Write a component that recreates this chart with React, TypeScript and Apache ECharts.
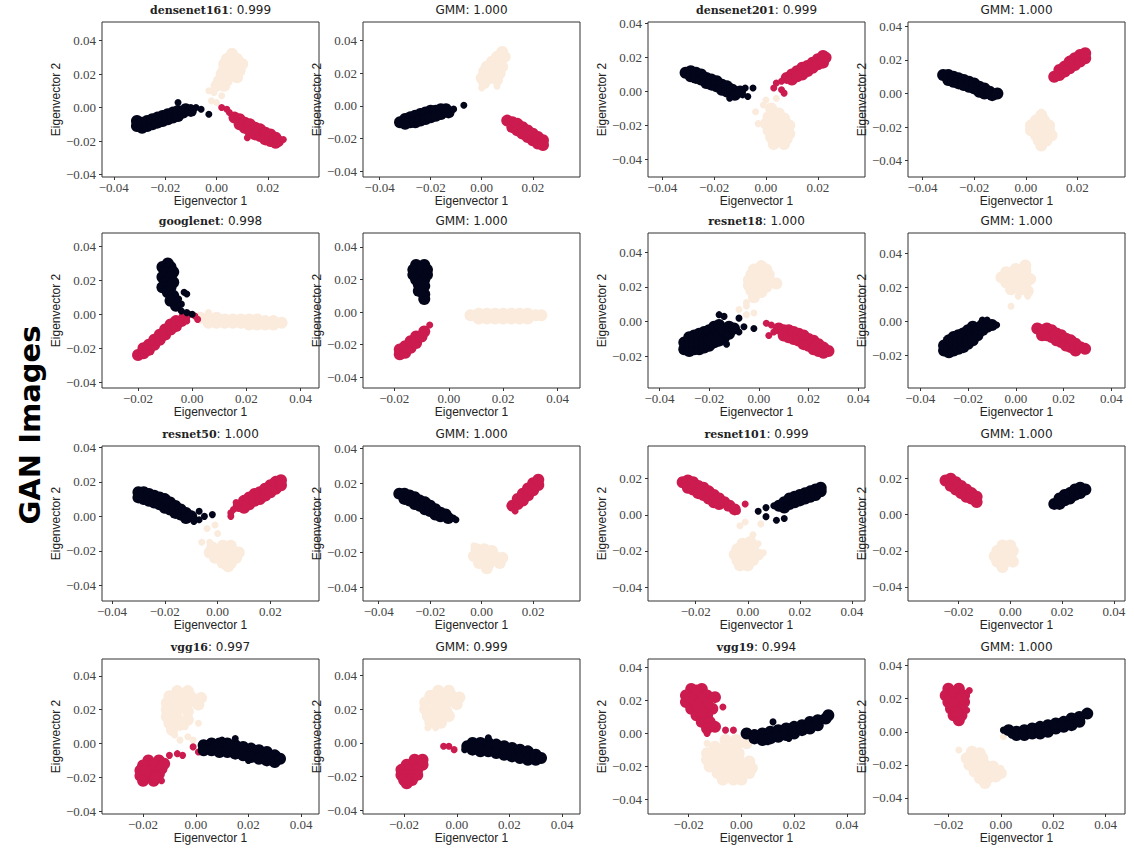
import React, { useEffect, useRef } from "react";
import * as echarts from "echarts";

const BLACK = "#03051A";
const RED = "#CB1B4F";
const PEACH = "#FAEBDD";

const TICKS_A = [-0.04, -0.02, 0, 0.02];
const TICKS_B = [-0.04, -0.02, 0, 0.02, 0.04];
const TICKS_C = [-0.02, 0, 0.02, 0.04];

// ---------- densenet161 ----------
const d161K = [[-0.031,-0.011],[-0.031,-0.008],[-0.029,-0.012],[-0.029,-0.009],[-0.027,-0.011],[-0.027,-0.008],[-0.025,-0.010],[-0.025,-0.007],[-0.023,-0.009],[-0.023,-0.006],[-0.021,-0.008],[-0.021,-0.005],[-0.019,-0.007],[-0.019,-0.004],[-0.017,-0.006],[-0.017,-0.003],[-0.015,-0.005],[-0.015,-0.002],[-0.013,-0.003],[-0.012,-0.001],[-0.010,-0.002]];
const d161KS = [[-0.015,0.003],[-0.010,0.000],[-0.008,0.000],[-0.006,-0.001],[-0.003,-0.004]];
const d161R = [[0.007,-0.006],[0.009,-0.007],[0.009,-0.010],[0.011,-0.009],[0.011,-0.012],[0.013,-0.010],[0.013,-0.014],[0.015,-0.012],[0.015,-0.016],[0.017,-0.013],[0.017,-0.017],[0.019,-0.015],[0.019,-0.019],[0.021,-0.016],[0.021,-0.020],[0.023,-0.018],[0.023,-0.021],[0.024,-0.020]];
const d161RS = [[0.002,0.000],[0.004,-0.001],[0.005,-0.003],[0.012,-0.018],[0.026,-0.019]];
const d161P = [[0.006,0.032],[0.004,0.029],[0.008,0.029],[0.003,0.026],[0.007,0.026],[0.010,0.026],[0.003,0.023],[0.006,0.023],[0.009,0.022],[0.002,0.020],[0.005,0.019],[0.008,0.018],[0.001,0.016],[0.004,0.016],[0.000,0.013],[0.003,0.013]];
const d161PS = [[-0.003,0.010],[-0.001,0.009],[-0.002,0.004],[0.000,0.003],[0.002,0.007]];

// ---------- GMM (densenet161) ----------
const g161K = [[-0.032,-0.010],[-0.030,-0.008],[-0.030,-0.011],[-0.028,-0.007],[-0.028,-0.010],[-0.026,-0.006],[-0.026,-0.010],[-0.024,-0.005],[-0.024,-0.009],[-0.022,-0.004],[-0.022,-0.008],[-0.020,-0.003],[-0.020,-0.007],[-0.018,-0.003],[-0.018,-0.006],[-0.016,-0.002],[-0.016,-0.005],[-0.014,-0.002],[-0.013,-0.004]];
const g161KS = [[-0.011,-0.002],[-0.007,0.0004]];
const g161R = [[0.010,-0.009],[0.012,-0.010],[0.012,-0.013],[0.014,-0.011],[0.014,-0.015],[0.016,-0.013],[0.016,-0.017],[0.018,-0.015],[0.018,-0.019],[0.020,-0.017],[0.020,-0.021],[0.022,-0.019],[0.022,-0.023],[0.024,-0.021],[0.024,-0.024]];
const g161RS: number[][] = [];
const g161P = [[0.008,0.033],[0.006,0.030],[0.009,0.030],[0.004,0.027],[0.007,0.027],[0.002,0.024],[0.005,0.024],[0.008,0.024],[0.001,0.021],[0.004,0.021],[0.007,0.020],[0.000,0.017],[0.003,0.017],[0.006,0.016],[0.001,0.014]];
const g161PS = [[0.000,0.011],[0.006,0.012]];

// ---------- densenet201 ----------
const d201K = [[-0.031,0.011],[-0.029,0.012],[-0.029,0.009],[-0.027,0.011],[-0.027,0.008],[-0.025,0.010],[-0.025,0.007],[-0.023,0.008],[-0.023,0.005],[-0.021,0.007],[-0.021,0.004],[-0.019,0.006],[-0.019,0.003],[-0.017,0.004],[-0.017,0.001],[-0.015,0.003],[-0.015,0.000],[-0.013,0.001],[-0.012,-0.002],[-0.010,0.000]];
const d201KS = [[-0.014,-0.004],[-0.009,-0.002],[-0.008,0.002],[-0.005,0.002],[-0.007,-0.003]];
const d201R = [[0.008,0.008],[0.010,0.010],[0.010,0.007],[0.012,0.012],[0.012,0.009],[0.014,0.014],[0.014,0.010],[0.016,0.015],[0.016,0.012],[0.018,0.017],[0.018,0.014],[0.020,0.019],[0.020,0.016],[0.022,0.021],[0.022,0.017],[0.023,0.020]];
const d201RS = [[0.004,0.005],[0.003,0.002],[0.006,0.001],[0.007,-0.001],[0.006,0.006]];
const d201P = [[0.002,-0.010],[0.005,-0.013],[0.001,-0.015],[0.004,-0.016],[0.007,-0.016],[0.000,-0.019],[0.003,-0.020],[0.006,-0.020],[0.009,-0.020],[0.001,-0.023],[0.004,-0.024],[0.007,-0.024],[0.009,-0.025],[0.002,-0.027],[0.005,-0.028],[0.008,-0.028],[0.003,-0.031],[0.007,-0.031]];
const d201PS = [[0.000,-0.005],[-0.001,-0.008],[-0.004,-0.012],[-0.003,-0.019],[0.004,-0.004]];

// ---------- GMM (densenet201) ----------
const g201K = [[-0.032,0.011],[-0.030,0.011],[-0.030,0.008],[-0.028,0.010],[-0.028,0.007],[-0.026,0.009],[-0.026,0.006],[-0.024,0.008],[-0.024,0.005],[-0.022,0.007],[-0.022,0.004],[-0.020,0.006],[-0.020,0.003],[-0.018,0.004],[-0.018,0.001],[-0.016,0.003],[-0.016,0.000],[-0.014,0.001],[-0.013,-0.001],[-0.011,0.000]];
const g201KS: number[][] = [];
const g201R = [[0.011,0.010],[0.013,0.011],[0.013,0.014],[0.015,0.013],[0.015,0.016],[0.017,0.015],[0.017,0.019],[0.019,0.017],[0.019,0.021],[0.021,0.019],[0.021,0.023],[0.023,0.021],[0.023,0.024]];
const g201RS: number[][] = [];
const g201P = [[0.006,-0.013],[0.004,-0.016],[0.007,-0.016],[0.002,-0.019],[0.005,-0.019],[0.009,-0.019],[0.002,-0.022],[0.005,-0.022],[0.009,-0.022],[0.004,-0.025],[0.007,-0.025],[0.010,-0.025],[0.005,-0.028],[0.008,-0.028],[0.006,-0.031]];
const g201PS = [[0.006,-0.011]];

// ---------- googlenet ----------
const gnK = [[-0.009,0.030],[-0.011,0.028],[-0.008,0.028],[-0.010,0.025],[-0.007,0.025],[-0.011,0.022],[-0.008,0.022],[-0.010,0.019],[-0.007,0.019],[-0.011,0.016],[-0.008,0.016],[-0.009,0.013],[-0.007,0.011],[-0.008,0.008],[-0.006,0.005]];
const gnKS = [[-0.003,0.013],[-0.002,0.012],[-0.004,0.006],[-0.004,0.002],[-0.002,0.001],[0.000,0.000],[-0.005,0.009]];
const gnR = [[-0.020,-0.024],[-0.018,-0.023],[-0.018,-0.020],[-0.016,-0.021],[-0.016,-0.018],[-0.014,-0.018],[-0.014,-0.015],[-0.012,-0.015],[-0.012,-0.012],[-0.010,-0.012],[-0.010,-0.009],[-0.008,-0.009],[-0.008,-0.006],[-0.006,-0.007],[-0.006,-0.004],[-0.004,-0.004],[-0.003,-0.002]];
const gnRS = [[-0.002,-0.004],[0.002,-0.003],[0.001,-0.001],[-0.001,0.000]];
const gnP = [[0.003,-0.002],[0.006,-0.002],[0.006,-0.005],[0.009,-0.002],[0.009,-0.005],[0.012,-0.003],[0.012,-0.005],[0.015,-0.003],[0.015,-0.005],[0.018,-0.003],[0.018,-0.005],[0.021,-0.003],[0.021,-0.006],[0.024,-0.003],[0.024,-0.006],[0.027,-0.004],[0.027,-0.006],[0.030,-0.004],[0.030,-0.006],[0.033,-0.005]];
const gnPS = [[0.006,0.001]];

// ---------- GMM (googlenet) ----------
const ggnK = [[-0.012,0.029],[-0.009,0.029],[-0.013,0.026],[-0.010,0.026],[-0.008,0.026],[-0.013,0.023],[-0.010,0.023],[-0.008,0.023],[-0.012,0.020],[-0.009,0.020],[-0.011,0.017],[-0.009,0.016],[-0.011,0.013],[-0.009,0.011],[-0.009,0.008]];
const ggnKS: number[][] = [];
const ggnR = [[-0.018,-0.026],[-0.018,-0.023],[-0.016,-0.025],[-0.016,-0.021],[-0.014,-0.022],[-0.014,-0.018],[-0.012,-0.019],[-0.012,-0.015],[-0.010,-0.015],[-0.009,-0.012]];
const ggnRS = [[-0.007,-0.008]];
const ggnP = [[0.008,-0.002],[0.011,-0.001],[0.011,-0.004],[0.014,-0.001],[0.014,-0.004],[0.017,-0.001],[0.017,-0.004],[0.020,-0.001],[0.020,-0.004],[0.023,-0.001],[0.023,-0.004],[0.026,-0.001],[0.026,-0.004],[0.029,-0.001],[0.029,-0.004],[0.032,-0.002],[0.034,-0.002]];
const ggnPS: number[][] = [];

// ---------- resnet18 ----------
const r18K = [[-0.030,-0.016],[-0.030,-0.012],[-0.028,-0.017],[-0.028,-0.013],[-0.028,-0.009],[-0.026,-0.016],[-0.026,-0.012],[-0.026,-0.008],[-0.024,-0.016],[-0.024,-0.012],[-0.024,-0.007],[-0.022,-0.015],[-0.022,-0.011],[-0.022,-0.006],[-0.020,-0.014],[-0.020,-0.010],[-0.020,-0.005],[-0.018,-0.012],[-0.018,-0.008],[-0.018,-0.003],[-0.016,-0.011],[-0.016,-0.007],[-0.016,-0.002],[-0.014,-0.009],[-0.014,-0.005],[-0.012,-0.007],[-0.012,-0.003],[-0.010,-0.004]];
const r18KS = [[-0.016,0.004],[-0.014,0.003],[-0.008,0.002],[-0.006,-0.003],[-0.002,-0.004],[-0.013,-0.013],[-0.008,-0.006]];
const r18R = [[0.008,-0.004],[0.010,-0.005],[0.010,-0.008],[0.012,-0.005],[0.012,-0.009],[0.014,-0.006],[0.014,-0.010],[0.016,-0.007],[0.016,-0.011],[0.018,-0.008],[0.018,-0.013],[0.020,-0.010],[0.020,-0.014],[0.022,-0.011],[0.022,-0.016],[0.024,-0.013],[0.024,-0.017],[0.026,-0.015],[0.026,-0.018],[0.028,-0.017]];
const r18RS = [[0.003,-0.001],[0.004,-0.008],[0.006,-0.006],[0.005,-0.002]];
const r18P = [[0.001,0.032],[-0.002,0.030],[0.003,0.030],[-0.003,0.027],[0.001,0.027],[0.004,0.027],[-0.004,0.024],[0.000,0.024],[0.004,0.024],[0.007,0.022],[-0.004,0.021],[0.000,0.021],[0.003,0.020],[-0.003,0.018],[0.001,0.017],[-0.002,0.014]];
const r18PS = [[-0.005,0.011],[-0.008,0.007],[-0.002,0.005],[-0.005,0.004],[-0.005,0.009]];

// ---------- GMM (resnet18) ----------
const g18K = [[-0.030,-0.017],[-0.030,-0.014],[-0.028,-0.018],[-0.028,-0.014],[-0.028,-0.011],[-0.026,-0.017],[-0.026,-0.013],[-0.026,-0.009],[-0.024,-0.016],[-0.024,-0.012],[-0.024,-0.008],[-0.022,-0.015],[-0.022,-0.011],[-0.022,-0.007],[-0.020,-0.013],[-0.020,-0.009],[-0.020,-0.005],[-0.018,-0.011],[-0.018,-0.007],[-0.018,-0.003],[-0.016,-0.008],[-0.016,-0.004],[-0.014,-0.005],[-0.014,-0.002],[-0.012,-0.003],[-0.010,-0.002]];
const g18KS = [[-0.014,0.001],[-0.012,0.001],[-0.008,-0.002]];
const g18R = [[0.009,-0.004],[0.011,-0.005],[0.011,-0.008],[0.013,-0.004],[0.013,-0.008],[0.015,-0.005],[0.015,-0.009],[0.017,-0.007],[0.017,-0.011],[0.019,-0.008],[0.019,-0.012],[0.021,-0.010],[0.021,-0.014],[0.023,-0.011],[0.023,-0.015],[0.025,-0.013],[0.025,-0.017],[0.027,-0.015],[0.029,-0.016]];
const g18RS: number[][] = [];
const g18P = [[0.004,0.033],[0.000,0.031],[0.004,0.030],[-0.004,0.029],[0.000,0.028],[0.004,0.027],[-0.006,0.026],[-0.002,0.026],[0.002,0.025],[0.006,0.025],[-0.004,0.023],[0.000,0.022],[0.004,0.022],[-0.002,0.019],[0.002,0.019],[0.005,0.018]];
const g18PS = [[-0.002,0.009],[0.001,0.015],[0.005,0.015]];

// ---------- resnet50 ----------
const r50K = [[-0.030,0.014],[-0.030,0.011],[-0.028,0.014],[-0.028,0.010],[-0.026,0.013],[-0.026,0.009],[-0.024,0.012],[-0.024,0.008],[-0.022,0.011],[-0.022,0.007],[-0.020,0.010],[-0.020,0.005],[-0.018,0.008],[-0.018,0.004],[-0.016,0.006],[-0.016,0.002],[-0.014,0.004],[-0.014,0.001],[-0.012,0.002],[-0.012,-0.001],[-0.010,0.000]];
const r50KS = [[-0.009,-0.003],[-0.007,-0.002],[-0.007,0.003],[-0.005,0.000],[-0.002,0.001]];
const r50R = [[0.008,0.006],[0.010,0.005],[0.010,0.009],[0.012,0.007],[0.012,0.011],[0.014,0.009],[0.014,0.013],[0.016,0.010],[0.016,0.014],[0.018,0.012],[0.018,0.016],[0.020,0.014],[0.020,0.018],[0.022,0.016],[0.022,0.020],[0.024,0.018],[0.024,0.021]];
const r50RS = [[0.005,0.000],[0.005,0.002],[0.007,0.008],[0.006,0.004]];
const r50P = [[-0.002,-0.018],[0.002,-0.017],[0.005,-0.017],[-0.003,-0.021],[0.001,-0.021],[0.005,-0.021],[0.008,-0.021],[-0.001,-0.024],[0.003,-0.024],[0.007,-0.024],[0.002,-0.027],[0.005,-0.027],[0.004,-0.029]];
const r50PS = [[-0.001,-0.005],[-0.004,-0.007],[0.000,-0.010],[-0.006,-0.015],[-0.003,-0.015]];

// ---------- GMM (resnet50) ----------
const g50K = [[-0.032,0.014],[-0.030,0.014],[-0.030,0.011],[-0.028,0.013],[-0.028,0.010],[-0.026,0.012],[-0.026,0.008],[-0.024,0.010],[-0.024,0.007],[-0.022,0.009],[-0.022,0.005],[-0.020,0.007],[-0.020,0.004],[-0.018,0.005],[-0.018,0.002],[-0.016,0.003],[-0.016,0.001],[-0.014,0.002],[-0.013,0.000]];
const g50KS = [[-0.011,0.000],[-0.010,-0.001]];
const g50R = [[0.012,0.007],[0.014,0.008],[0.014,0.011],[0.016,0.010],[0.016,0.014],[0.018,0.013],[0.018,0.017],[0.020,0.016],[0.020,0.020],[0.022,0.019],[0.022,0.022]];
const g50RS = [[0.011,0.007],[0.013,0.004]];
const g50P = [[-0.002,-0.018],[0.001,-0.018],[0.004,-0.019],[-0.003,-0.022],[0.001,-0.022],[0.005,-0.022],[0.008,-0.023],[-0.001,-0.026],[0.003,-0.026],[0.007,-0.026],[0.002,-0.029]];
const g50PS = [[-0.003,-0.016]];

// ---------- resnet101 ----------
const r101K = [[0.012,0.005],[0.014,0.004],[0.014,0.007],[0.016,0.006],[0.016,0.009],[0.018,0.007],[0.018,0.010],[0.020,0.008],[0.020,0.011],[0.022,0.009],[0.022,0.012],[0.024,0.010],[0.024,0.013],[0.026,0.011],[0.026,0.014],[0.028,0.013],[0.028,0.015]];
const r101KS = [[0.004,0.002],[0.007,0.004],[0.007,-0.001],[0.011,-0.003],[0.014,-0.002],[0.010,0.005]];
const r101R = [[-0.025,0.018],[-0.023,0.019],[-0.023,0.015],[-0.021,0.018],[-0.021,0.014],[-0.019,0.016],[-0.019,0.012],[-0.017,0.015],[-0.017,0.011],[-0.015,0.013],[-0.015,0.009],[-0.013,0.011],[-0.013,0.007],[-0.011,0.009],[-0.011,0.006],[-0.009,0.007],[-0.007,0.005],[-0.005,0.003]];
const r101RS = [[-0.001,0.006],[-0.004,0.002],[-0.008,0.004]];
const r101P = [[-0.002,-0.016],[0.001,-0.015],[-0.004,-0.019],[-0.001,-0.019],[0.002,-0.019],[-0.005,-0.022],[-0.002,-0.022],[0.001,-0.022],[0.004,-0.022],[-0.004,-0.025],[-0.001,-0.025],[0.002,-0.025],[-0.003,-0.028],[0.000,-0.028]];
const r101PS = [[-0.003,-0.006],[-0.001,-0.004],[0.005,-0.005],[0.002,-0.011],[0.004,-0.016],[0.006,-0.021]];

// ---------- GMM (resnet101) ----------
const g101K = [[0.017,0.006],[0.019,0.006],[0.019,0.009],[0.021,0.008],[0.021,0.011],[0.023,0.009],[0.023,0.012],[0.025,0.011],[0.025,0.014],[0.027,0.012],[0.027,0.015],[0.029,0.014]];
const g101KS: number[][] = [];
const g101R = [[-0.025,0.019],[-0.023,0.020],[-0.023,0.016],[-0.021,0.018],[-0.021,0.014],[-0.019,0.016],[-0.019,0.012],[-0.017,0.014],[-0.017,0.010],[-0.015,0.012],[-0.015,0.009],[-0.013,0.010],[-0.013,0.007]];
const g101RS: number[][] = [];
const g101P = [[-0.003,-0.017],[0.000,-0.017],[-0.005,-0.020],[-0.002,-0.020],[0.001,-0.020],[-0.006,-0.023],[-0.003,-0.023],[0.000,-0.023],[-0.005,-0.026],[-0.002,-0.026],[0.001,-0.026],[-0.003,-0.029]];
const g101PS: number[][] = [];

// ---------- vgg16 ----------
const v16K = [[0.003,-0.001],[0.003,-0.004],[0.006,0.000],[0.006,-0.004],[0.009,0.000],[0.009,-0.005],[0.012,0.000],[0.012,-0.005],[0.015,-0.001],[0.015,-0.006],[0.018,-0.002],[0.018,-0.007],[0.021,-0.003],[0.021,-0.008],[0.024,-0.004],[0.024,-0.009],[0.027,-0.005],[0.027,-0.010],[0.030,-0.007],[0.030,-0.011],[0.032,-0.009]];
const v16KS = [[0.015,0.003],[0.010,0.002],[0.020,-0.010]];
const v16R = [[-0.018,-0.010],[-0.014,-0.010],[-0.020,-0.013],[-0.016,-0.013],[-0.012,-0.012],[-0.021,-0.016],[-0.017,-0.016],[-0.013,-0.015],[-0.021,-0.019],[-0.017,-0.019],[-0.014,-0.018],[-0.020,-0.022],[-0.016,-0.022],[-0.019,-0.016],[-0.015,-0.020]];
const v16RS = [[-0.010,-0.007],[-0.007,-0.006],[-0.005,-0.007],[-0.001,-0.002],[0.001,-0.005],[-0.013,-0.022]];
const v16P = [[-0.007,0.031],[-0.003,0.031],[-0.010,0.028],[-0.006,0.028],[-0.002,0.028],[0.002,0.027],[-0.011,0.024],[-0.007,0.024],[-0.003,0.024],[0.001,0.023],[-0.011,0.020],[-0.007,0.020],[-0.003,0.019],[-0.011,0.016],[-0.007,0.015],[-0.003,0.014],[-0.010,0.012],[-0.006,0.011],[-0.009,0.008],[-0.005,0.022],[-0.009,0.018]];
const v16PS = [[-0.006,0.002],[-0.001,0.002],[0.001,0.012],[-0.004,0.010],[-0.003,0.004],[-0.008,0.005]];

// ---------- GMM (vgg16) ----------
const g16K = [[0.004,-0.002],[0.006,0.000],[0.006,-0.004],[0.009,0.000],[0.009,-0.005],[0.012,0.000],[0.012,-0.005],[0.015,-0.001],[0.015,-0.006],[0.018,-0.002],[0.018,-0.007],[0.021,-0.003],[0.021,-0.008],[0.024,-0.004],[0.024,-0.009],[0.027,-0.005],[0.027,-0.010],[0.030,-0.007],[0.030,-0.010],[0.032,-0.009]];
const g16KS = [[0.012,0.003],[0.003,-0.004]];
const g16R = [[-0.016,-0.010],[-0.013,-0.010],[-0.019,-0.013],[-0.016,-0.013],[-0.013,-0.013],[-0.021,-0.016],[-0.018,-0.016],[-0.015,-0.016],[-0.021,-0.019],[-0.018,-0.019],[-0.015,-0.019],[-0.020,-0.022],[-0.017,-0.022],[-0.019,-0.024]];
const g16RS = [[-0.005,-0.002],[-0.003,-0.002],[-0.001,-0.004]];
const g16P = [[-0.007,0.031],[-0.003,0.031],[-0.010,0.028],[-0.006,0.028],[-0.002,0.028],[0.001,0.027],[-0.012,0.024],[-0.008,0.024],[-0.004,0.024],[0.000,0.023],[-0.012,0.020],[-0.008,0.020],[-0.004,0.019],[-0.011,0.016],[-0.007,0.016],[-0.003,0.016],[-0.010,0.012],[-0.006,0.012],[-0.006,0.021],[-0.010,0.018]];
const g16PS = [[-0.011,0.009],[-0.008,0.009]];

// ---------- vgg19 ----------
const v19K = [[0.002,0.000],[0.005,-0.001],[0.005,-0.003],[0.008,0.000],[0.008,-0.004],[0.011,0.001],[0.011,-0.003],[0.014,0.002],[0.014,-0.002],[0.017,0.003],[0.017,-0.001],[0.020,0.004],[0.020,0.000],[0.023,0.005],[0.023,0.002],[0.026,0.007],[0.026,0.003],[0.029,0.008],[0.029,0.005],[0.032,0.009],[0.033,0.011]];
const v19KS = [[0.012,0.007],[0.010,-0.005],[0.018,-0.003]];
const v19R = [[-0.019,0.027],[-0.015,0.027],[-0.021,0.023],[-0.017,0.023],[-0.013,0.023],[-0.010,0.022],[-0.021,0.019],[-0.017,0.019],[-0.013,0.019],[-0.019,0.015],[-0.015,0.015],[-0.011,0.015],[-0.017,0.011],[-0.013,0.011],[-0.015,0.007],[-0.012,0.007],[-0.013,0.003],[-0.010,0.004],[-0.017,0.026],[-0.019,0.021],[-0.015,0.021],[-0.017,0.017],[-0.013,0.017],[-0.015,0.013]];
const v19RS = [[-0.007,0.016],[-0.006,0.002],[-0.003,0.002],[-0.013,0.000]];
const v19P = [[-0.006,-0.004],[-0.002,-0.004],[-0.010,-0.008],[-0.006,-0.008],[-0.002,-0.008],[0.002,-0.006],[-0.013,-0.012],[-0.009,-0.012],[-0.005,-0.012],[-0.001,-0.012],[-0.013,-0.016],[-0.009,-0.016],[-0.005,-0.016],[-0.001,-0.016],[0.003,-0.017],[-0.012,-0.020],[-0.008,-0.020],[-0.004,-0.020],[0.000,-0.020],[0.004,-0.021],[-0.009,-0.024],[-0.005,-0.024],[-0.001,-0.024],[0.003,-0.024],[-0.007,-0.028],[-0.003,-0.028],[0.000,-0.028],[-0.011,-0.014],[-0.007,-0.014],[-0.003,-0.014],[-0.010,-0.018],[-0.006,-0.018],[-0.002,-0.018],[-0.007,-0.022],[-0.003,-0.022],[-0.005,-0.026]];
const v19PS = [[0.001,-0.001],[0.003,-0.004],[-0.013,-0.006]];

// ---------- GMM (vgg19) ----------
const g19K = [[0.003,0.001],[0.006,0.000],[0.006,-0.002],[0.009,0.001],[0.009,-0.002],[0.012,0.002],[0.012,-0.001],[0.015,0.003],[0.015,-0.001],[0.018,0.004],[0.018,0.000],[0.021,0.005],[0.021,0.002],[0.024,0.006],[0.024,0.003],[0.027,0.008],[0.027,0.004],[0.030,0.009],[0.030,0.006],[0.033,0.011]];
const g19KS = [[0.001,0.001],[0.004,-0.002]];
const g19R = [[-0.020,0.026],[-0.016,0.026],[-0.021,0.022],[-0.017,0.022],[-0.014,0.022],[-0.020,0.018],[-0.017,0.018],[-0.014,0.018],[-0.019,0.014],[-0.016,0.014],[-0.018,0.010],[-0.015,0.010],[-0.016,0.007],[-0.018,0.024],[-0.019,0.020],[-0.015,0.020],[-0.018,0.016],[-0.017,0.012]];
const g19RS = [[-0.013,0.013],[-0.012,0.025]];
const g19P = [[-0.011,-0.012],[-0.008,-0.013],[-0.013,-0.016],[-0.010,-0.016],[-0.007,-0.016],[-0.012,-0.020],[-0.009,-0.020],[-0.006,-0.020],[-0.003,-0.021],[-0.010,-0.024],[-0.007,-0.024],[-0.004,-0.024],[0.000,-0.025],[-0.008,-0.028],[-0.005,-0.028],[-0.002,-0.027],[-0.006,-0.031],[-0.011,-0.018],[-0.008,-0.018],[-0.005,-0.022],[-0.008,-0.022],[-0.006,-0.026]];
const g19PS = [[-0.016,-0.011],[0.001,-0.003],[0.000,-0.022]];

// Panel titles and axis extents
const modelNames = ["densenet161", "GMM", "densenet201", "GMM", "googlenet", "GMM", "resnet18", "GMM", "resnet50", "GMM", "resnet101", "GMM", "vgg16", "GMM", "vgg19", "GMM"];
const scores = ["0.999", "1.000", "0.999", "1.000", "0.998", "1.000", "1.000", "1.000", "1.000", "1.000", "0.999", "1.000", "0.997", "0.999", "0.994", "1.000"];
const xExtents = [[-0.0446,0.0399],[-0.0465,0.0385],[-0.0455,0.0382],[-0.0456,0.0384],[-0.0333,0.0468],[-0.0315,0.0482],[-0.0446,0.0427],[-0.0451,0.0457],[-0.0438,0.0384],[-0.0461,0.0382],[-0.0383,0.045],[-0.0395,0.0443],[-0.0356,0.0468],[-0.0356,0.0468],[-0.0354,0.0469],[-0.0354,0.0474]];
const yExtents = [[-0.0414,0.051],[-0.0435,0.0513],[-0.0505,0.041],[-0.0498,0.0426],[-0.0435,0.048],[-0.0467,0.0486],[-0.0383,0.0511],[-0.039,0.0521],[-0.0491,0.0408],[-0.0479,0.0415],[-0.0477,0.0381],[-0.0478,0.0381],[-0.0417,0.050],[-0.0422,0.0498],[-0.0488,0.0451],[-0.0497,0.044]];
const xTickSets = [TICKS_A, TICKS_A, TICKS_A, TICKS_A, TICKS_C, TICKS_C, TICKS_B, TICKS_B, TICKS_A, TICKS_A, TICKS_C, TICKS_B, TICKS_C, TICKS_C, TICKS_C, TICKS_C];
const yTickSets = [TICKS_B, TICKS_B, TICKS_B, TICKS_B, TICKS_B, TICKS_B, TICKS_C, TICKS_C, TICKS_B, TICKS_B, TICKS_A, TICKS_A, TICKS_B, TICKS_B, TICKS_B, TICKS_B];

const blackCore = [d161K, g161K, d201K, g201K, gnK, ggnK, r18K, g18K, r50K, g50K, r101K, g101K, v16K, g16K, v19K, g19K];
const blackStray = [d161KS, g161KS, d201KS, g201KS, gnKS, ggnKS, r18KS, g18KS, r50KS, g50KS, r101KS, g101KS, v16KS, g16KS, v19KS, g19KS];
const redCore = [d161R, g161R, d201R, g201R, gnR, ggnR, r18R, g18R, r50R, g50R, r101R, g101R, v16R, g16R, v19R, g19R];
const redStray = [d161RS, g161RS, d201RS, g201RS, gnRS, ggnRS, r18RS, g18RS, r50RS, g50RS, r101RS, g101RS, v16RS, g16RS, v19RS, g19RS];
const peachCore = [d161P, g161P, d201P, g201P, gnP, ggnP, r18P, g18P, r50P, g50P, r101P, g101P, v16P, g16P, v19P, g19P];
const peachStray = [d161PS, g161PS, d201PS, g201PS, gnPS, ggnPS, r18PS, g18PS, r50PS, g50PS, r101PS, g101PS, v16PS, g16PS, v19PS, g19PS];

const COL_LEFT = [102, 363, 648, 908];
const ROW_TOP = [22, 233, 446, 659];
const PW = 217;
const PH = 155;
const CORE_SIZE = 12;
const STRAY_SIZE = 7;

const fmt = (v: number) => {
  const s = Math.abs(v).toFixed(2);
  return v < -1e-9 ? "\u2212" + s : s;
};

function buildOption() {
  const grid: any[] = [];
  const xAxis: any[] = [];
  const yAxis: any[] = [];
  const title: any[] = [];
  const series: any[] = [];
  for (let i = 0; i < 16; i++) {
    const col = i % 4;
    const row = Math.floor(i / 4);
    const left = COL_LEFT[col];
    const top = ROW_TOP[row];
    grid.push({ left, top, width: PW, height: PH, show: true, borderColor: "#333", borderWidth: 1, backgroundColor: "transparent", containLabel: false });
    xAxis.push({
      gridIndex: i, type: "value", min: xExtents[i][0], max: xExtents[i][1], position: "bottom",
      name: "Eigenvector 1", nameLocation: "middle", nameGap: 16,
      nameTextStyle: { fontFamily: "Liberation Sans", fontSize: 12, color: "#222" },
      axisLine: { show: false, onZero: false }, splitLine: { show: false },
      axisTick: { show: true, length: 3, lineStyle: { color: "#333" }, customValues: xTickSets[i] },
      axisLabel: { customValues: xTickSets[i], formatter: fmt, fontFamily: "Liberation Serif", fontSize: 13, color: "#444", margin: 4 },
    });
    yAxis.push({
      gridIndex: i, type: "value", min: yExtents[i][0], max: yExtents[i][1], position: "left",
      name: "Eigenvector 2", nameLocation: "middle", nameGap: 37, nameRotate: 90,
      nameTextStyle: { fontFamily: "Liberation Sans", fontSize: 12, color: "#222" },
      axisLine: { show: false, onZero: false }, splitLine: { show: false },
      axisTick: { show: true, length: 3, lineStyle: { color: "#333" }, customValues: yTickSets[i] },
      axisLabel: { customValues: yTickSets[i], formatter: fmt, fontFamily: "Liberation Serif", fontSize: 13, color: "#444", margin: 6 },
    });
    const isGMM = modelNames[i] === "GMM";
    title.push({
      text: isGMM ? `{n|${modelNames[i]}: ${scores[i]}}` : `{b|${modelNames[i]}}{n|: ${scores[i]}}`,
      left: left + PW / 2, top: top - 18, textAlign: "center", padding: 0,
      textStyle: {
        fontWeight: "normal",
        rich: {
          b: { fontFamily: "DejaVu Serif", fontWeight: "bold", fontSize: 11, color: "#222" },
          n: { fontFamily: "DejaVu Sans", fontWeight: "normal", fontSize: 12, color: "#222" },
        },
      },
    });
    const groups: [number[][], string, number][] = [
      [peachCore[i], PEACH, CORE_SIZE],
      [peachStray[i], PEACH, STRAY_SIZE],
      [redCore[i], RED, CORE_SIZE],
      [redStray[i], RED, STRAY_SIZE],
      [blackCore[i], BLACK, CORE_SIZE],
      [blackStray[i], BLACK, STRAY_SIZE],
    ];
    for (const [data, color, size] of groups) {
      series.push({
        type: "scatter", xAxisIndex: i, yAxisIndex: i, data, symbol: "circle",
        symbolSize: size, itemStyle: { color, opacity: 1 }, silent: true,
      });
    }
  }
  return {
    animation: false,
    backgroundColor: "#fff",
    grid, xAxis, yAxis, title, series,
    graphic: [
      {
        type: "text", x: 30, y: 425, rotation: Math.PI / 2,
        style: { text: "GAN Images", fontFamily: "DejaVu Sans", fontWeight: "bold", fontSize: 29, fill: "#000", textAlign: "center", textVerticalAlign: "middle" },
      },
    ],
  };
}

export default function App() {
  const ref = useRef<HTMLDivElement>(null);
  useEffect(() => {
    if (!ref.current) return;
    const chart = echarts.init(ref.current, undefined, { renderer: "svg" });
    chart.setOption(buildOption() as any);
    return () => chart.dispose();
  }, []);
  return <div ref={ref} style={{ position: "absolute", left: 0, top: 0, width: 1134, height: 852 }} />;
}
